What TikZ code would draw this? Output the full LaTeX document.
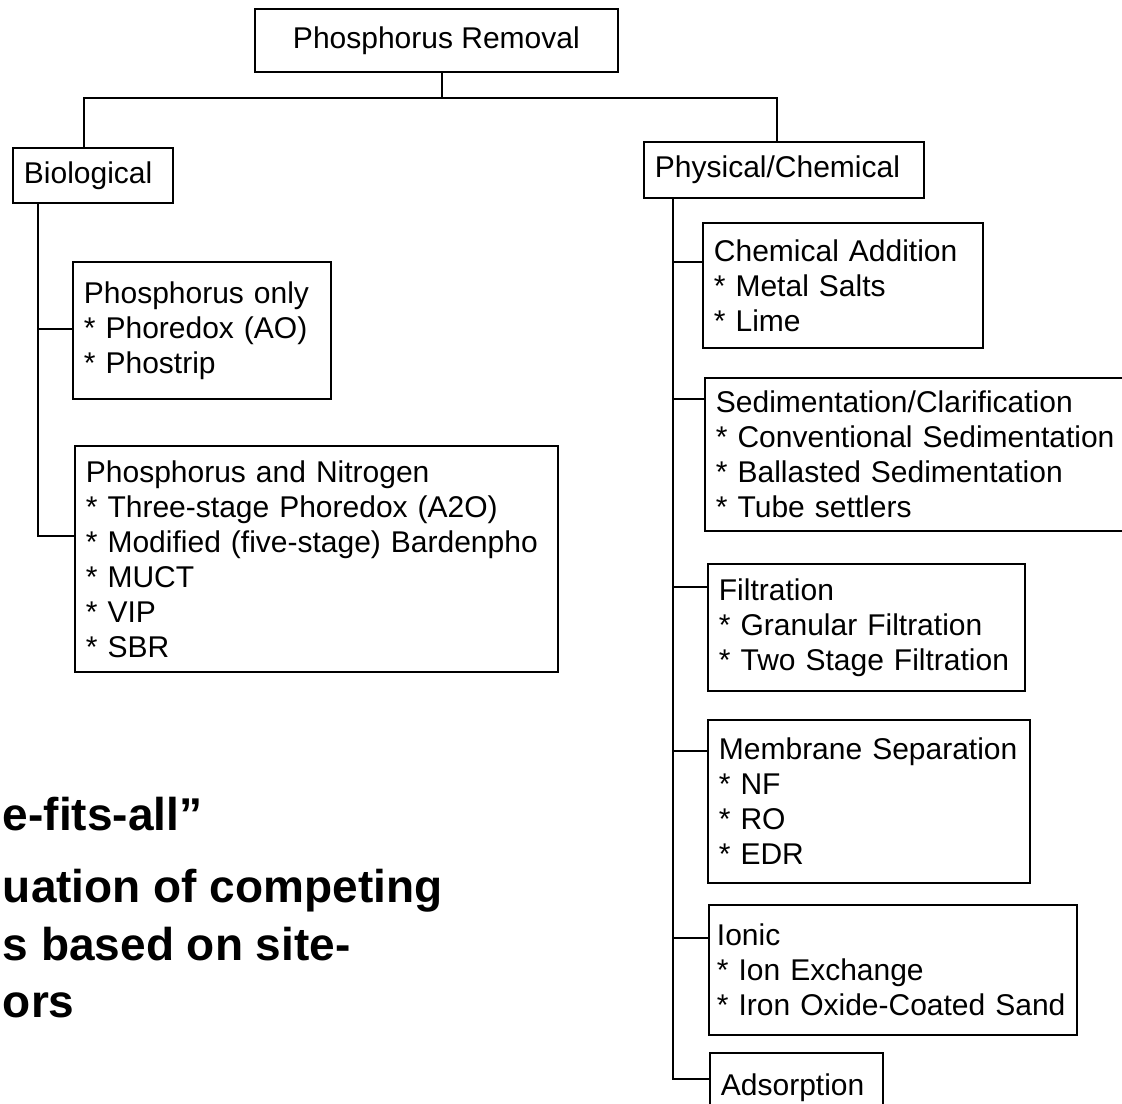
\documentclass[tikz,border=0pt]{standalone}
\usepackage{fontspec}
\setmainfont{Liberation Sans}
\usetikzlibrary{calc, positioning}
\tikzset{box-c/.style = {draw, rectangle, align=center, anchor=north west, inner sep=3pt}}
\tikzset{box-l/.style = {draw, rectangle, align=left, anchor=north west, inner xsep=5.5pt, inner ysep=3pt}}
\tikzset{note/.style = {anchor=base west, inner sep=0pt, font=\bfseries\fontsize{23}{29}\selectfont}}

\begin{document}
\begin{tikzpicture}[x=0.5pt, y=-0.5pt, line width=0.9pt, font=\fontsize{15}{17.5}\selectfont]
  \useasboundingbox (0,0) rectangle (1122,1103);
  \clip (0,0) rectangle (1122,1103);
  \path (254,8) node[box-c, minimum width=181.5pt, minimum height=31.5pt] (root) {Phosphorus Removal}
        (12,147) node[box-l, text width=69pt, minimum height=27.5pt] (bio) {Biological}
        (643,141) node[box-l, text width=129pt, minimum height=28pt] (phys) {Physical/Chemical}
        (72,261) node[box-l, text width=118pt, minimum height=68.5pt] (bioP)
          {Phosphorus only\\{*} Phoredox (AO)\\{*} Phostrip}
        (74,445) node[box-l, text width=230.5pt, minimum height=113pt] (bioPN)
          {Phosphorus and Nitrogen\\{*} Three-stage Phoredox (A2O)\\{*} Modified (five-stage) Bardenpho\\{*} MUCT\\{*} VIP\\{*} SBR}
        (702,222) node[box-l, text width=129pt, minimum height=62.5pt] (pcChem)
          {Chemical Addition\\{*} Metal Salts\\{*} Lime}
        (704,377) node[box-l, text width=209pt, minimum height=76.5pt] (pcSed)
          {Sedimentation/Clarification\\{*} Conventional Sedimentation\\{*} Ballasted Sedimentation\\{*} Tube settlers}
        (707,563) node[box-l, text width=147.5pt, minimum height=63.5pt] (pcFilt)
          {Filtration\\{*} Granular Filtration\\{*} Two Stage Filtration}
        (707,719) node[box-l, text width=150pt, minimum height=81.5pt] (pcMem)
          {Membrane Separation\\{*} NF\\{*} RO\\{*} EDR}
        (708,904) node[box-l, inner xsep=4pt, text width=176pt, minimum height=65pt] (pcIon)
          {Ionic\\{*} Ion Exchange\\{*} Iron Oxide-Coated Sand}
        (709,1052) node[box-l, text width=75.5pt, minimum height=35pt] (pcAds) {Adsorption};

  % bullet text at the left edge
  \path (2,830) node[note] (fits) {e-fits-all”}
      ++(0,72) node[note] (eval1) {uation of competing}
      ++(0,58) node[note] (eval2) {s based on site-}
      ++(0,57) node[note] (eval3) {ors};

  \coordinate (bus) at (442,98);
  \coordinate (bioT) at ($(bio.south west)+(26,0)$);
  \coordinate (physT) at ($(phys.south west)+(30,0)$);
  \draw (root.south -| bus) -- (bus);
  \draw (bus) -| ($(bio.north west)+(72,0)$);
  \draw (bus) -| ($(phys.north west)+(134,0)$);
  \foreach \b/\d in {bioP/68, bioPN/91}
  {
    \draw (bioT) |- ($(\b.north west)+(0,\d)$);
  }
  \foreach \b/\d in {pcChem/40, pcSed/22, pcFilt/24, pcMem/32, pcIon/34, pcAds/27}
  {
    \draw (physT) |- ($(\b.north west)+(0,\d)$);
  }
\end{tikzpicture}
\end{document}
